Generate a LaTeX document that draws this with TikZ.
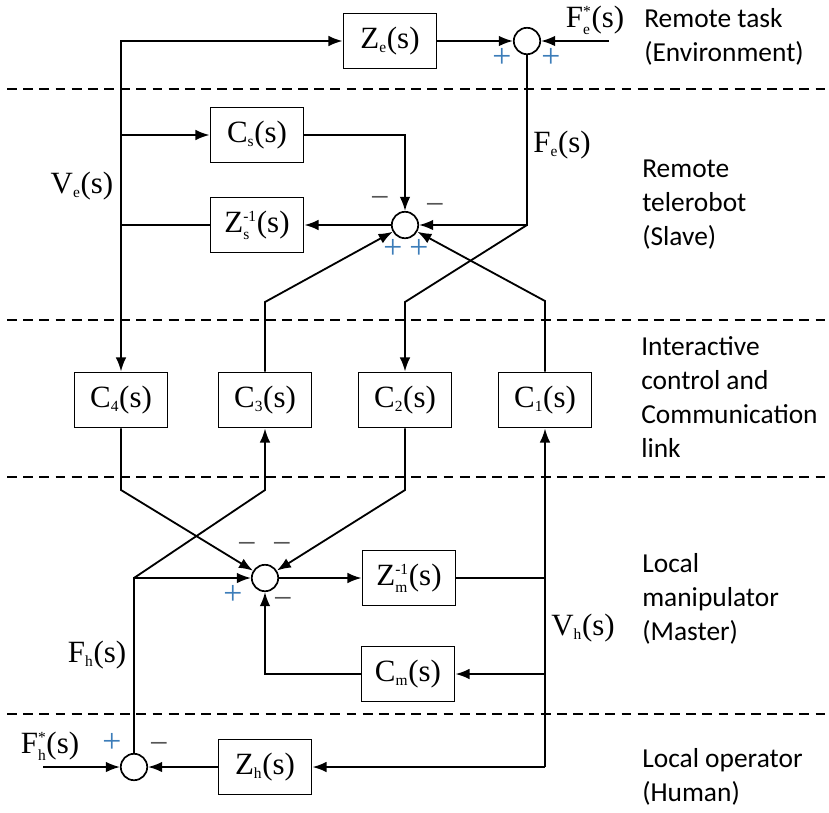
\documentclass[tikz,border=0pt]{standalone}
\usepackage{fontspec}
\usepackage{amsmath}
\setmainfont{Liberation Serif}
\newfontfamily\sidefont{Carlito}
\DeclareMathSizes{22}{22}{11}{9}
\usetikzlibrary{arrows.meta}
\definecolor{plusblue}{RGB}{60,125,185}
\definecolor{minusgray}{RGB}{85,85,85}
\newcommand{\tfsub}[2]{#1$_{\text{#2}}$(s)}
\newcommand{\tfsup}[3]{#1$_{\text{#2}}^{\text{#3}}$(s)}
\tikzset{
  >={Latex[length=10pt,width=7.5pt]},
  x=0.025cm, y=-0.025cm,
}
\tikzstyle{block}=[draw,line width=1.2pt,minimum width=2.33cm,minimum height=1.38cm,inner sep=0pt,font=\fontsize{22}{26}\selectfont]
\tikzstyle{sum}=[draw,circle,line width=1.2pt,minimum size=0.66cm,inner sep=0pt]
\tikzstyle{signal}=[line width=1.3pt]
\tikzstyle{boundary}=[line width=1.8pt,dash pattern=on 7pt off 4.5pt]
\tikzstyle{varname}=[inner sep=0pt,font=\fontsize{22}{26}\selectfont]
\tikzstyle{plussign}=[inner sep=0pt,text=plusblue,font=\fontsize{24}{26}\selectfont]
\tikzstyle{minussign}=[inner sep=0pt,text=minusgray,font=\fontsize{24}{26}\selectfont]
\tikzstyle{region}=[inner sep=0pt,align=left,anchor=base west,font=\sidefont\fontsize{19.5}{24}\selectfont]

\begin{document}
\begin{tikzpicture}
  \useasboundingbox (0,0) rectangle (829,812);
  % layer boundaries
  \foreach \y in {89,320,477,714}
    \draw[boundary] (7,\y)--(829,\y);

  % remote task
  \node[block] (ze) at (390,41) {\tfsub{Z}{e}};
  \node[sum] (se) at (527,41) {};
  \coordinate (fes) at (609,41);
  \node[varname,anchor=base] (fesl) at (595,27) {\tfsup{F}{e}{*}};
  \node[plussign] (sep1) at (502,58) {+};
  \node[plussign] (sep2) at (551,58) {+};

  % remote telerobot
  \node[block] (cs) at (257,135) {\tfsub{C}{s}};
  \node[block] (zs) at (257,225) {\tfsup{Z}{s}{-1}};
  \node[sum] (ss) at (405,225) {};
  \coordinate (ve) at (121,225);
  \coordinate (fe) at (527,225);
  \node[varname,anchor=base] (vel) at (82,193) {\tfsub{V}{e}};
  \node[varname,anchor=base] (fel) at (562,152) {\tfsub{F}{e}};
  \node[minussign] (ssm1) at (380,202) {−};
  \node[minussign] (ssm2) at (435,209) {−};
  \node[plussign] (ssp1) at (393,249) {+};
  \node[plussign] (ssp2) at (419,249) {+};

  % control and communication
  \node[block] (c4) at (121,400) {\tfsub{C}{4}};
  \node[block] (c3) at (265,400) {\tfsub{C}{3}};
  \node[block] (c2) at (405,400) {\tfsub{C}{2}};
  \node[block] (c1) at (545,400) {\tfsub{C}{1}};
  \coordinate (c3top) at (265,302);
  \coordinate (c2top) at (405,302);
  \coordinate (c1top) at (545,301);
  \coordinate (c4bot) at (121,490);
  \coordinate (c3bot) at (265,490);
  \coordinate (c2bot) at (405,490);

  % local manipulator
  \node[sum] (ms) at (265,578) {};
  \node[block] (zm) at (409,578) {\tfsup{Z}{m}{-1}};
  \node[block] (cm) at (408,674) {\tfsub{C}{m}};
  \coordinate (fh) at (134,578);
  \coordinate (vh) at (545,578);
  \coordinate (vhm) at (545,674);
  \node[varname,anchor=base] (fhl) at (97,662) {\tfsub{F}{h}};
  \node[varname,anchor=base] (vhl) at (583,635) {\tfsub{V}{h}};
  \node[minussign] (msm1) at (247,548) {−};
  \node[minussign] (msm2) at (282,548) {−};
  \node[plussign] (msp) at (233,595) {+};
  \node[minussign] (msm3) at (283,603) {−};

  % local operator
  \node[sum] (hs) at (134,767) {};
  \node[block] (zh) at (265,767) {\tfsub{Z}{h}};
  \coordinate (fhs) at (43,767);
  \coordinate (vhc) at (545,767);
  \node[varname,anchor=base] (fhsl) at (50,753) {\tfsup{F}{h}{*}};
  \node[plussign] (hsp) at (112,743) {+};
  \node[minussign] (hsm) at (159,748) {−};

  % signals
  \draw[signal,->] (zs) -- (ve) -- (c4);
  \draw[signal,->] (ve) |- (ze);
  \draw[signal,->] (ve) |- (cs);
  \draw[signal,->] (cs) -| (ss);
  \draw[signal,->] (ss) -- (zs);
  \draw[signal,->] (ze) -- (se);
  \draw[signal,->] (fes) -- (se);
  \draw[signal,->] (se) |- (ss);
  \draw[signal,->] (fe) -- (c2top) -- (c2);
  \draw[signal,->] (c3) -- (c3top) -- (ss);
  \draw[signal,->] (c1) -- (c1top) -- (ss);
  \draw[signal,->] (c4) -- (c4bot) -- (ms);
  \draw[signal,->] (c2) -- (c2bot) -- (ms);
  \draw[signal,->] (hs) -- (fh) -- (ms);
  \draw[signal,->] (fh) -- (c3bot) -- (c3);
  \draw[signal,->] (ms) -- (zm);
  \draw[signal] (zm) -- (vh);
  \draw[signal,->] (vhc) -- (c1);
  \draw[signal,->] (vhm) -- (cm);
  \draw[signal,->] (cm) -| (ms);
  \draw[signal,->] (vhc) -- (zh);
  \draw[signal,->] (zh) -- (hs);
  \draw[signal,->] (fhs) -- (hs);

  % layer names (anchored at the last line)
  \node[region] (envt) at (644,61) {Remote task\\(Environment)};
  \node[region] (slvt) at (642,245) {Remote\\telerobot\\(Slave)};
  \node[region] (comt) at (641,457) {Interactive\\control and\\Communication\\link};
  \node[region] (mast) at (642,640) {Local\\manipulator\\(Master)};
  \node[region] (hmnt) at (642,801) {Local operator\\(Human)};
\end{tikzpicture}
\end{document}
